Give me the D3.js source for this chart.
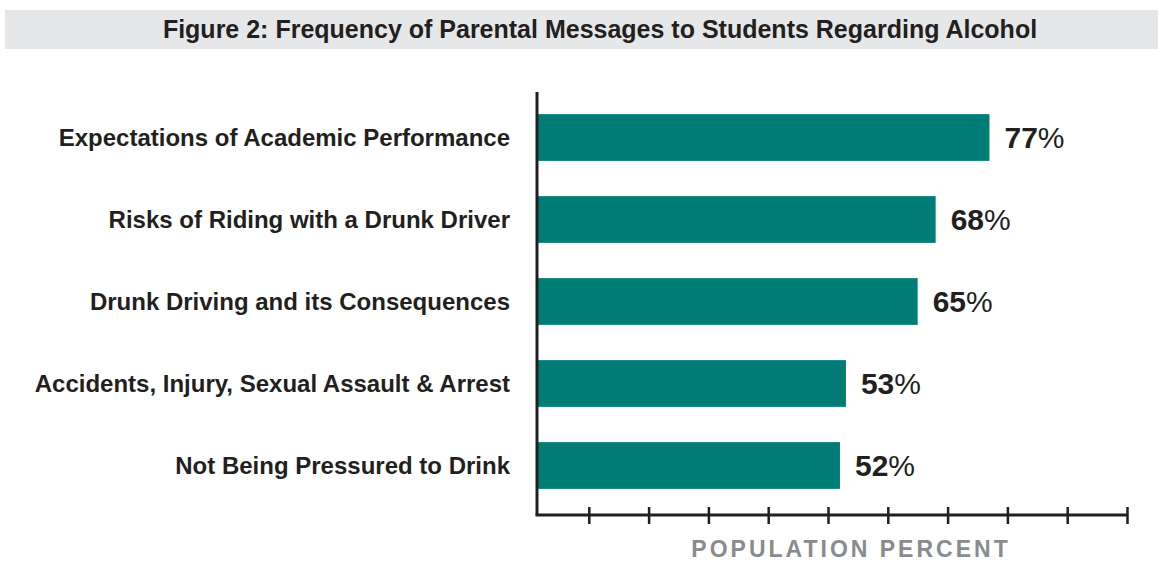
<!DOCTYPE html>
<meta charset="utf-8">
<style>
  body { margin: 0; background: #fff; }
  svg { display: block; }
  .cat { font: bold 24px "Liberation Sans Narrow", "Arial Narrow", sans-serif; fill: #231f20; }
  .val { font: bold 30px "Liberation Sans", Arial, sans-serif; fill: #231f20; }
  .val tspan.pct { font-weight: normal; }
  .title { font: bold 25px "Liberation Sans Narrow", "Arial Narrow", sans-serif; fill: #231f20; }
  .xlabel { font: bold 23px "Liberation Sans", Arial, sans-serif; fill: #8a8b8e; letter-spacing: 3px; }
</style>
<body>
<svg width="1158" height="561"></svg>
<script src="https://d3js.org/d3.v7.min.js"></script>
<script>
// chart data
var categories = [
  "Expectations of Academic Performance",
  "Risks of Riding with a Drunk Driver",
  "Drunk Driving and its Consequences",
  "Accidents, Injury, Sexual Assault & Arrest",
  "Not Being Pressured to Drink"
];
var values = [77, 68, 65, 53, 52];
var tickValues = [10, 20, 30, 40, 50, 60, 70, 80, 90, 100];
var titleText = "Figure 2: Frequency of Parental Messages to Students Regarding Alcohol";
var axisTitle = "POPULATION PERCENT";

var data = categories.map(function (c, i) { return { cat: c, val: values[i] }; });

var svg = d3.select("svg");
var axisX = 537, axisY = 515, axisTop = 92;

// x scale: 10% steps are ~60px, 0 sits just left of the drawn axis
var x = d3.scaleLinear().domain([0, 100]).range([529, 1127]);
var y = d3.scaleBand().domain(categories).range([96.5, 506.5])
  .paddingInner(0.43).paddingOuter(0.215);

// title band
svg.append("rect").attr("x", 5).attr("y", 10).attr("width", 1153).attr("height", 39)
  .attr("fill", "#e6e7e8");
svg.append("text").attr("class", "title")
  .attr("x", 600).attr("y", 38).attr("text-anchor", "middle")
  .text(titleText);

// bars
svg.selectAll(".bar").data(data).enter().append("rect")
  .attr("class", "bar")
  .attr("x", axisX)
  .attr("y", function (d) { return y(d.cat); })
  .attr("width", function (d) { return x(d.val) - axisX; })
  .attr("height", y.bandwidth())
  .attr("fill", "#007c77");

// value labels
var vl = svg.selectAll(".val").data(data).enter().append("text")
  .attr("class", "val")
  .attr("x", function (d) { return x(d.val) + 15; })
  .attr("y", function (d) { return y(d.cat) + y.bandwidth() / 2; })
  .attr("dy", "0.36em");
vl.append("tspan").text(function (d) { return d.val; });
vl.append("tspan").attr("class", "pct").text("%");

// category labels
svg.selectAll(".cat").data(data).enter().append("text")
  .attr("class", "cat")
  .attr("x", 510)
  .attr("y", function (d) { return y(d.cat) + y.bandwidth() / 2; })
  .attr("dy", "0.36em")
  .attr("text-anchor", "end")
  .text(function (d) { return d.cat; });

// x axis
var xAxis = d3.axisBottom(x).tickValues(tickValues).tickSize(0).tickFormat("");
var gx = svg.append("g").attr("transform", "translate(0," + axisY + ")").call(xAxis);
gx.select(".domain").remove();
gx.append("line").attr("x1", axisX - 1.5).attr("x2", x(100)).attr("y1", 0).attr("y2", 0)
  .attr("stroke", "#231f20").attr("stroke-width", 3);
gx.selectAll(".tick line").attr("y1", -8).attr("y2", 9)
  .attr("stroke", "#231f20").attr("stroke-width", 2.5);

// y axis line
svg.append("line").attr("x1", axisX).attr("x2", axisX).attr("y1", axisTop).attr("y2", axisY)
  .attr("stroke", "#231f20").attr("stroke-width", 3);

svg.append("text").attr("class", "xlabel")
  .attr("x", 851).attr("y", 557).attr("text-anchor", "middle")
  .text(axisTitle);
</script>
</body>
